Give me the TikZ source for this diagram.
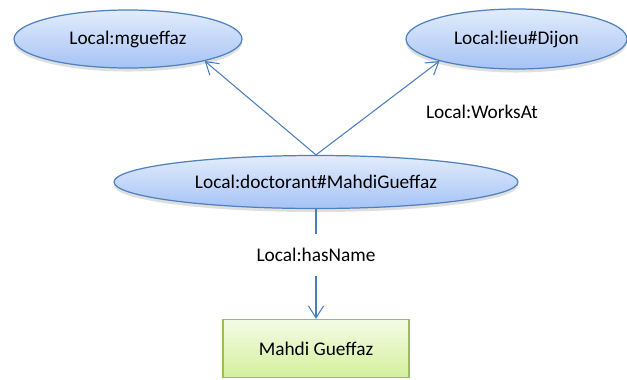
\documentclass[tikz,border=0pt]{standalone}
\usepackage{fontspec}
\setmainfont{Carlito}
\usepackage{tikz}
\usetikzlibrary{shapes,arrows.meta,shadows}
\definecolor{ovalline}{HTML}{4F81BD}
\definecolor{ovaltop}{HTML}{E2ECFC}
\definecolor{ovalbot}{HTML}{A6C3F5}
\definecolor{boxline}{HTML}{9BBB59}
\definecolor{boxtop}{HTML}{F4FBE6}
\definecolor{boxbot}{HTML}{D5EF9C}
\definecolor{linkcol}{HTML}{4A7EBB}
\tikzstyle{every node}=[font=\fontsize{11}{13}\selectfont]
\tikzset{
  classnode/.style={ellipse,draw=ovalline,line width=0.7pt,top color=ovaltop,bottom color=ovalbot,
    drop shadow={opacity=0.25,shadow xshift=0pt,shadow yshift=-2pt},inner sep=0pt},
  literalnode/.style={rectangle,draw=boxline,line width=0.7pt,top color=boxtop,bottom color=boxbot,
    minimum width=3.72cm,minimum height=1.16cm},
  proplabel/.style={inner sep=0pt},
  link/.style={draw=linkcol,line width=0.6pt},
  linkarrow/.style={link,-{Straight Barb[length=0.24cm,width=0.3cm]}}
}

\begin{document}
\begin{tikzpicture}
\useasboundingbox (0,0) rectangle (12.54,7.58);

% resources
\node[classnode,minimum width=4.56cm,minimum height=1.16cm] (mgueffaz) at (2.56,6.80) {Local:mgueffaz};
\node[classnode,minimum width=4.42cm,minimum height=1.2cm] (dijon) at (10.33,6.80) {Local:lieu\#Dijon};
\node[classnode,minimum width=8.08cm,minimum height=1.06cm] (doctorant) at (6.32,3.94) {Local:doctorant\#MahdiGueffaz};

% literal
\node[literalnode] (mahdi) at (6.32,0.61) {Mahdi Gueffaz};

% property labels
\node[proplabel,minimum height=0.84cm] (hasname) at (6.32,2.48) {Local:hasName};
\node[proplabel] (worksat) at (9.64,5.34) {Local:WorksAt};

% links
\draw[linkarrow] (doctorant.north) -- (mgueffaz.-16);
\draw[linkarrow] (doctorant.north) -- (dijon.-164);
\draw[link] (doctorant.south) -- (hasname.north);
\draw[linkarrow] (hasname.south) -- (mahdi.north);
\end{tikzpicture}
\end{document}
